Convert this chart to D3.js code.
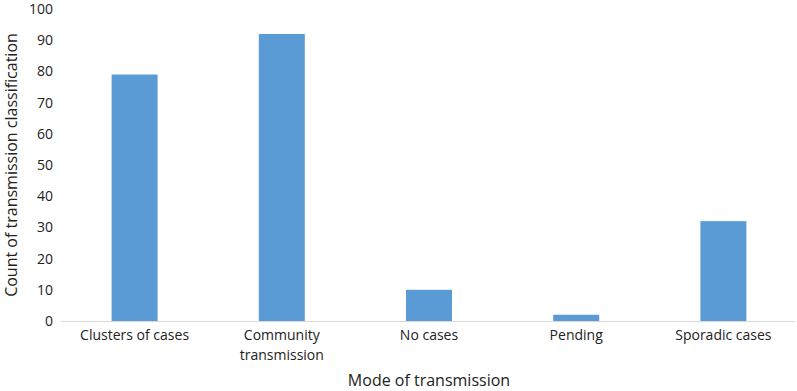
<!DOCTYPE html>
<html><head><meta charset="utf-8">
<script src="https://cdn.jsdelivr.net/npm/d3@7"></script>
<style>body{margin:0;background:#fff}svg{display:block;font-family:"Open Sans",sans-serif}</style>
</head><body><svg id="c" width="797" height="391"></svg>
<script>
const categories = ["Clusters of cases", "Community transmission", "No cases", "Pending", "Sporadic cases"];
const categoryLines = [["Clusters of cases"], ["Community", "transmission"], ["No cases"], ["Pending"], ["Sporadic cases"]];
const values = [79, 92, 10, 2, 32];
const yTicks = [0, 10, 20, 30, 40, 50, 60, 70, 80, 90, 100];

(function () {
const svg = d3.select("#c");
const mL = 61, mR = 797, mT = 9, mB = 321;
const x = d3.scaleBand().domain(categories).range([mL, mR]).padding(0);
const y = d3.scaleLinear().domain([0, 100]).range([mB, mT]);
const bw = x.bandwidth() * 0.3125;

svg.append("g").selectAll("rect").data(values).join("rect")
  .attr("x", (d, i) => x(categories[i]) + x.bandwidth() / 2 - bw / 2)
  .attr("y", d => y(d))
  .attr("width", bw)
  .attr("height", d => y(0) - y(d))
  .attr("fill", "#5b9bd5");

svg.append("line").attr("x1", mL).attr("x2", mR - 2).attr("y1", y(0) + 0.5).attr("y2", y(0) + 0.5)
  .attr("stroke", "#d9d9d9").attr("stroke-width", 1);

svg.append("g").selectAll("text").data(yTicks).join("text")
  .attr("x", 53).attr("y", d => y(d)).attr("dy", "0.35em")
  .attr("text-anchor", "end").attr("font-size", 14).attr("fill", "#222")
  .text(d => d);

const xl = svg.append("g").selectAll("text").data(categories).join("text")
  .attr("x", d => x(d) + x.bandwidth() / 2).attr("y", 340)
  .attr("text-anchor", "middle").attr("font-size", 14).attr("fill", "#222");
xl.each(function(d, i) {
  d3.select(this).selectAll("tspan").data(categoryLines[i]).join("tspan")
    .attr("x", x(d) + x.bandwidth() / 2).attr("dy", (t, j) => j === 0 ? 0 : 20).text(t => t);
});

svg.append("text").attr("x", 429).attr("y", 386).attr("text-anchor", "middle")
  .attr("font-size", 16).attr("fill", "#222").text("Mode of transmission");
svg.append("text").attr("transform", "translate(17,165) rotate(-90)").attr("text-anchor", "middle")
  .attr("font-size", 16).attr("fill", "#222").text("Count of transmission classification");
})();
</script></body></html>
